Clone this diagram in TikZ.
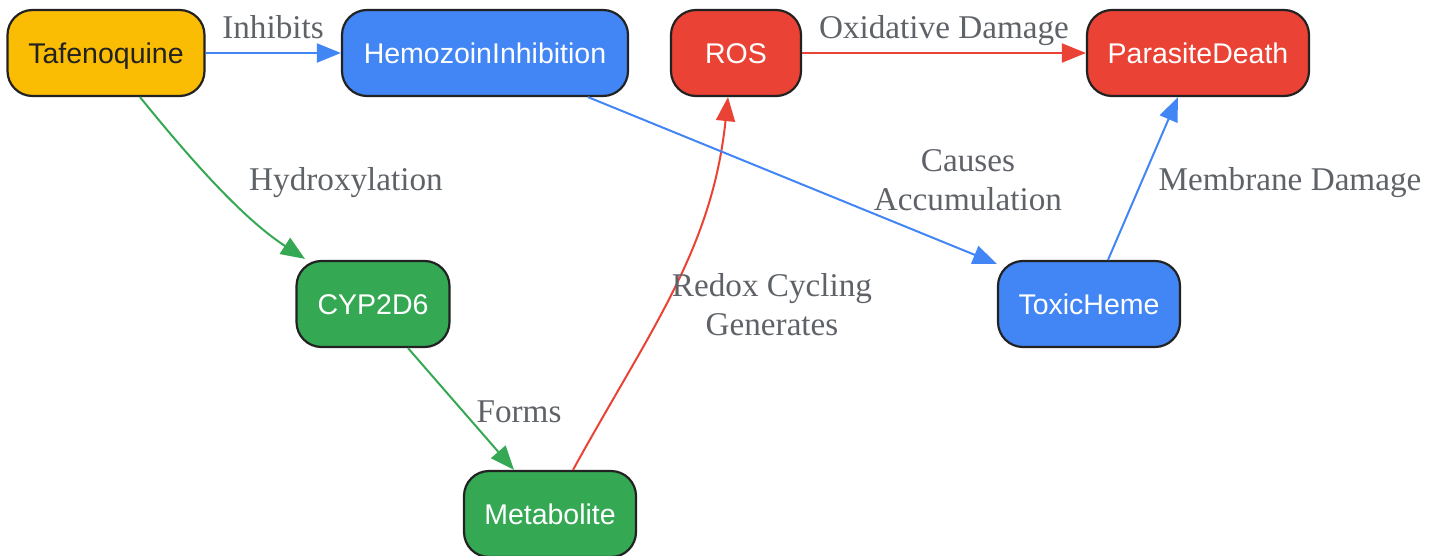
\documentclass[tikz,border=0pt]{standalone}
\usepackage{fontspec}
\setmainfont{Liberation Serif}
\newfontfamily\nodefont{Liberation Sans}
\usetikzlibrary{arrows.meta}
\definecolor{cyel}{HTML}{FBBC04}
\definecolor{cblue}{HTML}{4285F4}
\definecolor{cred}{HTML}{EA4335}
\definecolor{cgreen}{HTML}{34A853}
\definecolor{cgrey}{HTML}{5F6368}
\definecolor{cborder}{HTML}{222222}
\tikzset{
  box/.style={draw=cborder, line width=2.2pt, rounded corners=25pt, minimum height=86pt,
    inner sep=0pt, text height=20.8pt, text depth=0pt,
    font=\nodefont\fontsize{28.5}{33}\selectfont, text=white},
  lbl/.style={font=\fontsize{33.2}{39}\selectfont, text=cgrey, align=center, inner sep=0pt},
  lblone/.style={lbl, text height=22.9pt, text depth=0pt},
  conn/.style={line width=2pt, -{Triangle[length=24pt,width=19pt]}},
}
\begin{document}
\begin{tikzpicture}[x=1pt,y=-1pt]
\useasboundingbox (0,0) rectangle (1439,556);
\node[box, fill=cyel, text=cborder, minimum width=197pt] (taf) at (106,53) {Tafenoquine};
\node[box, fill=cblue, minimum width=286pt] (hemo) at (485,53) {HemozoinInhibition};
\node[box, fill=cred, minimum width=130pt] (ros) at (736,53) {ROS};
\node[box, fill=cred, minimum width=222pt] (par) at (1198,53) {ParasiteDeath};
\node[box, fill=cgreen, minimum width=153pt] (cyp) at (373,304) {CYP2D6};
\node[box, fill=cblue, minimum width=182pt] (tox) at (1089,304) {ToxicHeme};
\node[box, fill=cgreen, minimum width=172pt] (met) at (550,514) {Metabolite};

\draw[conn, cblue] (taf.east) -- (hemo.west);
\draw[conn, cgreen] ([xshift=34pt]taf.south) .. controls (195,165) and (245,220) .. ([xshift=-68pt,yshift=1pt]cyp.north);
\draw[conn, cgreen] ([xshift=35pt]cyp.south) -- ([xshift=-36pt]met.north);
\draw[conn, cred] ([xshift=23pt]met.north) .. controls (650,330) and (712,250) .. ([xshift=-8pt]ros.south);
\draw[conn, cblue] ([xshift=103pt]hemo.south) -- ([yshift=-4pt]tox.north west);
\draw[conn, cblue] ([xshift=19pt]tox.north) -- ([xshift=-20pt]par.south);
\draw[conn, cred] (ros.east) -- (par.west);

\node[lblone] (l1) at (273,27) {Inhibits};
\node[lblone] (l2) at (346,179) {Hydroxylation};
\node[lblone] (l3) at (519,411) {Forms};
\node[lbl] (l4) at (772,305) {Redox Cycling\\Generates};
\node[lbl] (l5) at (968,180) {Causes\\Accumulation};
\node[lblone] (l6) at (1290,179) {Membrane Damage};
\node[lblone] (l7) at (944,27) {Oxidative Damage};
\end{tikzpicture}
\end{document}
